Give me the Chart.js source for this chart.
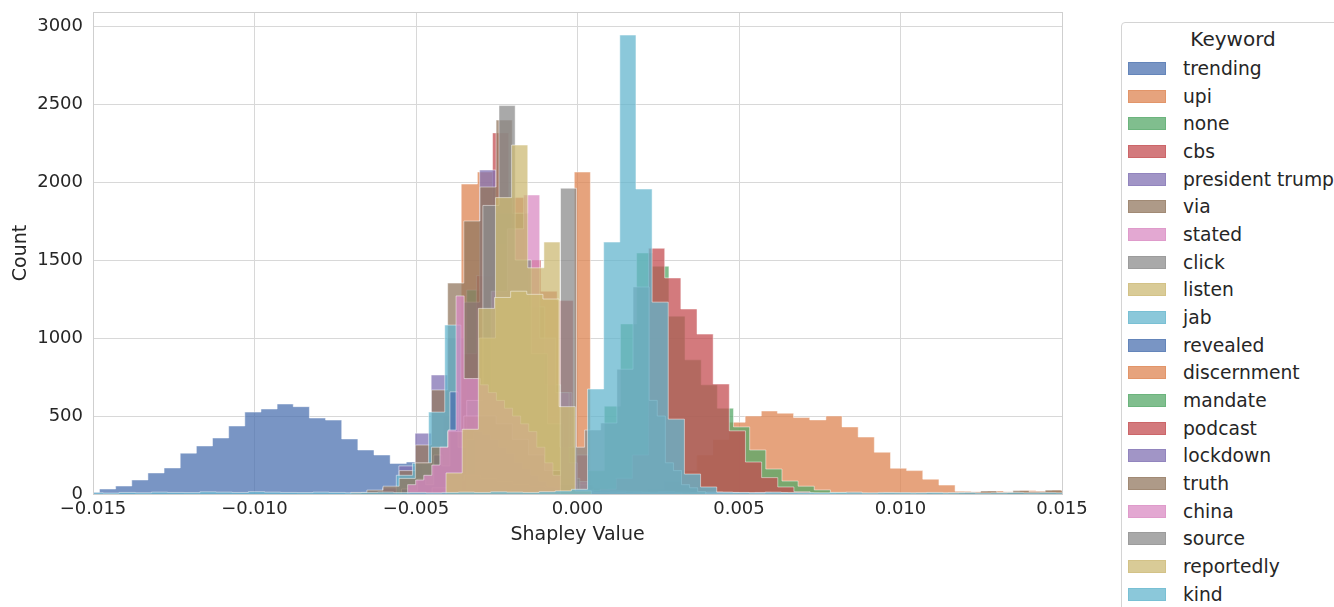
<!DOCTYPE html>
<html>
<head>
<meta charset="utf-8">
<script src="https://cdn.jsdelivr.net/npm/chart.js@4.4.0/dist/chart.umd.min.js"></script>
<style>
  html, body { margin: 0; padding: 0; background: #fff; overflow: hidden; }
  #wrap { position: relative; width: 1334px; height: 607px; overflow: hidden; }
  #hist { position: absolute; left: 0; top: 0; }
  #legend {
    position: absolute; left: 1121px; top: 22px; width: 222px; height: 620px;
    border: 1px solid #d4d4d4; border-radius: 4px; background: #fff;
    font-family: 'DejaVu Sans', sans-serif; color: #262626; white-space: nowrap;
  }
  #legend .title { height: 32px; line-height: 32px; font-size: 20px; text-align: center; }
  #legend .row { position: relative; height: 27.68px; line-height: 27.68px; font-size: 18.7px; }
  #legend .patch { position: absolute; left: 6px; top: 7px; width: 38px; height: 13px; box-sizing: border-box; }
  #legend .name { position: absolute; left: 61px; top: 0; }
</style>
</head>
<body>
<div id="wrap">
  <canvas id="hist" width="1334" height="607"></canvas>
  <div id="legend"></div>
</div>
<script>
// keywords in legend order, seaborn "deep" palette cycles every 10
const keywords = ['trending', 'upi', 'none', 'cbs', 'president trump', 'via', 'stated', 'click', 'listen', 'jab',
                  'revealed', 'discernment', 'mandate', 'podcast', 'lockdown', 'truth', 'china', 'source', 'reportedly', 'kind'];
const palette = ['#4C72B0', '#DD8452', '#55A868', '#C44E52', '#8172B3', '#937860', '#DA8BC3', '#8C8C8C', '#CCB974', '#64B5CD'];

// left edge of the first bin and bin width (Shapley value units) per keyword
const binStarts = [-0.0153, -0.0046, -0.00443, -0.00513, -0.00603, -0.00552, -0.00317, -0.00343, -0.00304, -0.00561,
                   -0.00545, 0.00219, -0.00017, 0.0002, -0.0045, -0.00702, -0.00526, -0.00053, -0.00407, -0.01519];
const binWidths = [0.0005, 0.0005, 0.0005, 0.0005, 0.0005, 0.0005, 0.0005, 0.0005, 0.0005, 0.0005,
                   0.00025, 0.0005, 0.0005, 0.0005, 0.0005, 0.0005, 0.00025, 0.00025, 0.0005, 0.0005];

// counts per bin
const trendingCounts = [11, 32, 51, 90, 135, 167, 262, 308, 359, 436, 525, 545, 577, 560, 487, 474, 353, 282, 250, 196, 205, 110, 60, 30, 14, 6, 3];
const upiCounts = [60, 300, 1987, 2064, 1600, 1100, 700, 450, 300, 2064, 40];
const noneCounts = [200, 583, 1307, 1200, 900, 600, 300, 120, 40];
const cbsCounts = [40, 150, 500, 900, 1400, 2315, 1900, 1500, 1300, 1240, 250];
const presidentTrumpCounts = [40, 180, 390, 763, 1000, 1230, 2077, 1800, 1200, 700, 300, 100];
const viaCounts = [150, 314, 667, 1352, 1750, 1968, 2397, 1800, 1200, 700, 300, 60];
const statedCounts = [500, 1300, 1700, 1917, 1000, 650, 80];
const clickCounts = [600, 1850, 2490, 1500, 900, 450, 100];
const listenCounts = [1000, 1900, 2237, 1450, 1615, 300, 20];
const jabCounts = [120, 197, 525, 1083, 20, 8];
const revealedCounts = [32, 20, 96, 60, 250, 180, 655, 300, 350, 400, 380, 350, 300, 260, 200, 160, 120, 80, 50, 30, 15, 8];
const discernmentCounts = [30, 80, 150, 250, 350, 460, 500, 532, 518, 490, 475, 500, 430, 365, 268, 165, 150, 95, 57, 18, 15, 20, 15, 22, 20, 25];
const mandateCounts = [30, 150, 563, 1090, 1545, 1460, 1140, 860, 700, 550, 430, 282, 160, 83, 50, 26, 10];
const podcastCounts = [10, 30, 100, 250, 1575, 1385, 1186, 1025, 705, 405, 205, 105, 45, 15];
const lockdownCounts = [40, 90, 120, 100, 80, 60, 50, 40, 30, 25, 20, 18, 15, 12, 15, 12, 10, 12, 10, 8, 10, 8, 6, 5, 4];
const truthCounts = [10, 25, 50, 100, 200, 300, 400, 500, 500, 450, 350, 250, 150, 60, 20, 8, 5, 4, 3, 4, 3, 3, 4, 3, 2, 3, 4, 3, 3, 2,
                     3, 4, 3, 5, 4, 6, 5, 8, 12, 20, 10, 22, 15, 25, 20];
const chinaCounts = [60, 90, 120, 186, 300, 410, 1270, 740, 740, 700, 650, 600, 550, 500, 450, 400, 300, 200, 120, 650, 200, 30,
                     15, 10, 12, 8, 10, 6, 8, 10, 5, 8, 6, 5];
const sourceCounts = [1960, 1960, 300, 410, 410, 455, 455, 800, 800, 1327, 1327, 600, 500, 200, 150, 60, 40, 15];
const reportedlyCounts = [135, 415, 1190, 1260, 1300, 1280, 1250, 560, 20];
const kindCounts = [8, 6, 10, 8, 12, 10, 9, 14, 12, 10, 15, 12, 10, 9, 12, 10, 8, 10, 12, 9, 10, 8, 10, 12, 10, 14, 12, 10, 15, 20,
                    30, 673, 1615, 2942, 1955, 1230, 480, 128, 45, 12,
                    10, 8, 12, 10, 9, 8, 10, 12, 8, 10, 9, 8, 10, 8, 9, 7, 8, 10, 8, 9, 8];

const allCounts = [trendingCounts, upiCounts, noneCounts, cbsCounts, presidentTrumpCounts, viaCounts, statedCounts,
                   clickCounts, listenCounts, jabCounts, revealedCounts, discernmentCounts, mandateCounts, podcastCounts,
                   lockdownCounts, truthCounts, chinaCounts, sourceCounts, reportedlyCounts, kindCounts];

const xTicks = [-0.015, -0.010, -0.005, 0.000, 0.005, 0.010, 0.015];
const yTicks = [0, 500, 1000, 1500, 2000, 2500, 3000];

function rgba(hex, a) {
    const n = parseInt(hex.slice(1), 16);
    return 'rgba(' + (n >> 16) + ',' + ((n >> 8) & 255) + ',' + (n & 255) + ',' + a + ')';
}

// histogram outline as step points: (edge, count), closed at zero on both ends
function stepPoints(start, width, counts) {
    const pts = [{x: start, y: 0}];
    counts.forEach((c, i) => pts.push({x: start + i * width, y: c}));
    pts.push({x: start + counts.length * width, y: 0});
    return pts;
}

const datasets = keywords.map((k, i) => ({
    label: k,
    data: stepPoints(binStarts[i], binWidths[i], allCounts[i]),
    stepped: true,
    fill: 'origin',
    backgroundColor: rgba(palette[i % 10], 0.75),
    borderColor: 'rgba(255,255,255,0.6)',
    borderWidth: 0.8,
    pointRadius: 0,
    order: keywords.length - i // later keywords drawn on top
}));

// light frame round the plot (top/right spines)
const frame = {
    id: 'frame',
    afterDatasetsDraw(chart) {
        const a = chart.chartArea, ctx = chart.ctx;
        ctx.save();
        ctx.strokeStyle = '#cfcfcf';
        ctx.lineWidth = 1;
        ctx.strokeRect(Math.round(a.left) + 0.5, Math.round(a.top) + 0.5, Math.round(a.right - a.left), Math.round(a.bottom - a.top));
        ctx.restore();
    }
};

Chart.defaults.font.family = "'DejaVu Sans', sans-serif";
Chart.defaults.color = '#262626';

new Chart(document.querySelector('#hist'), {
    type: 'line',
    data: { datasets: datasets },
    options: {
        responsive: false,
        animation: false,
        layout: { padding: { left: 0, top: 12, right: 272, bottom: 0 } },
        plugins: { legend: { display: false }, tooltip: { enabled: false } },
        scales: {
            x: {
                type: 'linear',
                min: xTicks[0],
                max: xTicks[xTicks.length - 1],
                afterBuildTicks: s => { s.ticks = xTicks.map(v => ({value: v})); },
                afterFit: s => { s.height = 113; s.paddingLeft = 0; s.paddingRight = 0; },
                grid: { color: '#d8d8d8', lineWidth: 1, drawTicks: false },
                border: { color: '#cfcfcf' },
                ticks: {
                    autoSkip: false, maxRotation: 0, padding: 5,
                    font: { size: 18 }, color: '#262626',
                    callback: v => { const r = Math.round(v * 1000) / 1000; return (r < 0 ? '\u2212' : '') + Math.abs(r).toFixed(3); }
                },
                title: { display: true, text: 'Shapley Value', font: { size: 19 }, color: '#262626', padding: { top: 0, bottom: 61 } }
            },
            y: {
                min: 0,
                max: 3090,
                afterBuildTicks: s => { s.ticks = yTicks.map(v => ({value: v})); },
                afterFit: s => { s.width = 93; s.paddingTop = 0; s.paddingBottom = 0; },
                grid: { color: '#d8d8d8', lineWidth: 1, drawTicks: false },
                border: { color: '#cfcfcf' },
                ticks: { padding: 10, font: { size: 18 }, color: '#262626', callback: v => String(v) },
                title: { display: true, text: 'Count', font: { size: 19 }, color: '#262626', padding: { top: 10, bottom: 0 } }
            }
        }
    },
    plugins: [frame]
});

// legend box (cut off by the page edge like the original)
const legend = document.querySelector('#legend');
let html = '<div class="title">Keyword</div>';
keywords.forEach((k, i) => {
    html += '<div class="row"><span class="patch" style="background:' + rgba(palette[i % 10], 0.75) +
            ';border:1px solid ' + rgba(palette[i % 10], 0.45) + '"></span><span class="name">' + k + '</span></div>';
});
legend.innerHTML = html;
</script>
</body>
</html>
